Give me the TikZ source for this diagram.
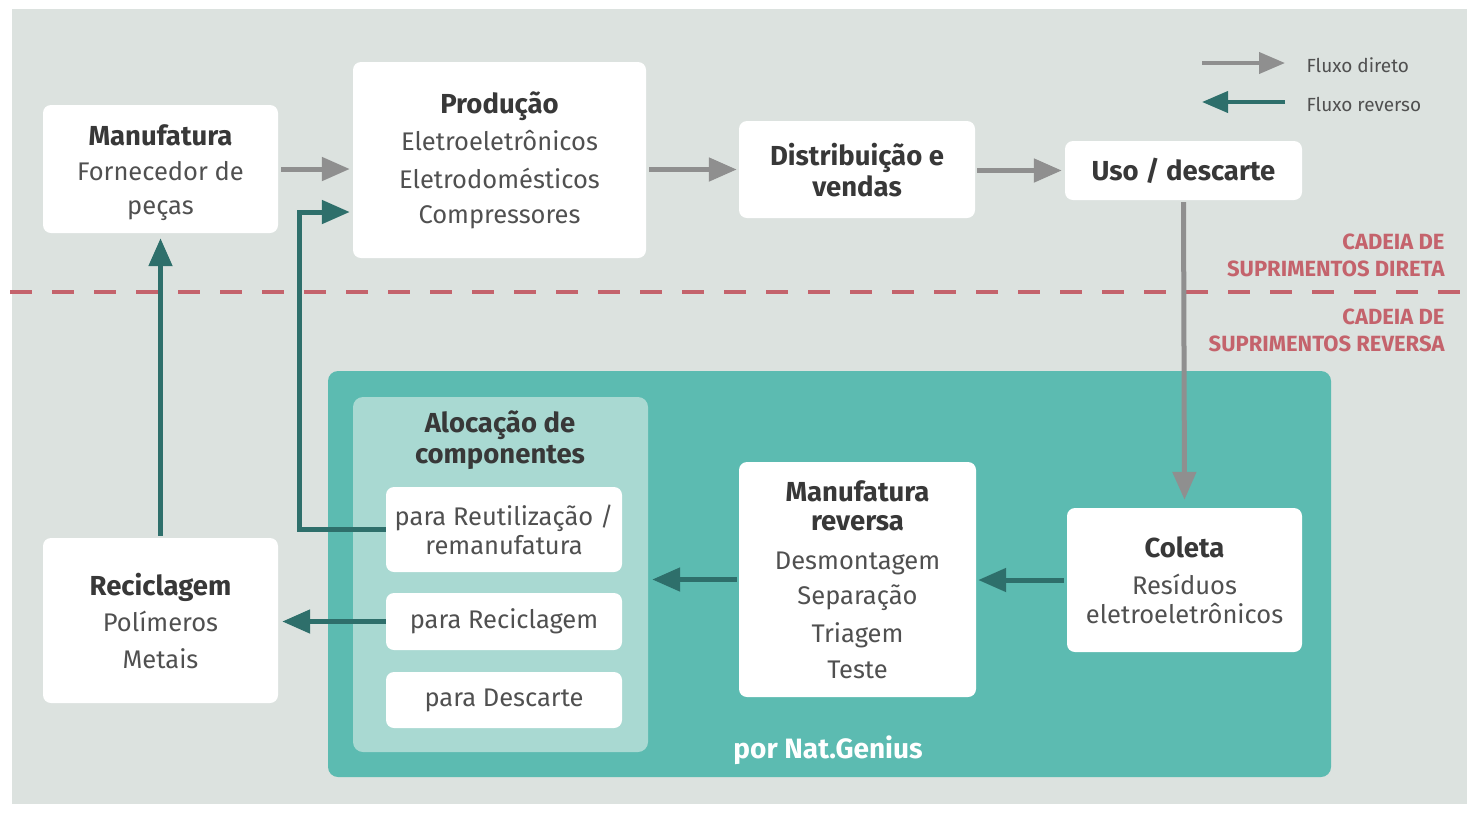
\documentclass[tikz,border=0pt]{standalone}
\usepackage{fontspec}
\setmainfont{Fira Sans}
\usetikzlibrary{arrows.meta}
\definecolor{bgc}{HTML}{DCE2DF}
\definecolor{tealbox}{HTML}{5CBBB1}
\definecolor{ltealbox}{HTML}{A9D9D2}
\definecolor{revc}{HTML}{2E6F6B}
\definecolor{fwdc}{HTML}{8F8F8F}
\definecolor{txtc}{HTML}{505050}
\definecolor{ttlc}{HTML}{383838}
\definecolor{redc}{HTML}{C4636C}
\tikzset{
  box/.style={fill=white, rounded corners=8pt, align=center, inner sep=0pt,
    text=txtc, font=\fontsize{25.5}{36}\selectfont},
  fwd/.style={draw=fwdc, line width=5pt, -{Triangle[length=28pt,width=23pt]}},
  rev/.style={draw=revc, line width=5pt, -{Triangle[length=28pt,width=23pt]}},
  sep/.style={draw=redc, line width=4.5pt, dash pattern=on 22pt off 20pt},
  chain/.style={text=redc, font=\bfseries\fontsize{22}{27}\selectfont, align=right, anchor=east},
  legend/.style={text=txtc, font=\fontsize{19}{22}\selectfont, anchor=west},
}
\newcommand{\ttl}[1]{{\bfseries\color{ttlc}\fontsize{27.5}{36}\selectfont#1}}
\begin{document}
\begin{tikzpicture}[x=1pt,y=-1pt]
\useasboundingbox (0,0) rectangle (1469,812);
\fill[white] (0,0) rectangle (1469,812);
\fill[bgc] (12,9) rectangle (1467,804);
% separator
\coordinate (sepL) at (10,292);
\coordinate (sepR) at (1467,292);
\draw[sep] (sepL) -- (sepR);
\node[chain] (cd) at (1448,255) {CADEIA DE\\SUPRIMENTOS DIRETA};
\node[chain] (cr) at (1448,330) {CADEIA DE\\SUPRIMENTOS REVERSA};
% legend
\coordinate (l1a) at (1202,63); \coordinate (l1b) at (1285,63);
\coordinate (l2a) at (1285,102); \coordinate (l2b) at (1202,102);
\draw[fwd, line width=4pt, -{Triangle[length=26pt,width=21pt]}] (l1a) -- (l1b);
\draw[rev, line width=4pt, -{Triangle[length=26pt,width=21pt]}] (l2a) -- (l2b);
\node[legend] (lt1) at (1303,65) {Fluxo direto};
\node[legend] (lt2) at (1303,104) {Fluxo reverso};
% containers
\node[fill=tealbox, rounded corners=10pt, minimum width=1003pt, minimum height=406pt, inner sep=0pt] (np) at (829.5,574) {};
\node[fill=ltealbox, rounded corners=10pt, minimum width=295pt, minimum height=355pt, inner sep=0pt] (aloc) at (500.5,574.5) {};
\node[text=ttlc, font=\bfseries\fontsize{27.5}{31}\selectfont, align=center] (aloct) at (500,440) {Alocação de\\componentes};
\node[text=white, font=\bfseries\fontsize{28}{30}\selectfont] (ng) at (828,750) {por Nat.Genius};
% boxes
\node[box, minimum width=235pt, minimum height=128pt] (manuf) at (160.5,169) {\rule{0pt}{28pt}\ttl{Manufatura}\\[-1pt]Fornecedor de\\[-2pt]peças};
\node[box, minimum width=293pt, minimum height=196pt] (prod) at (499.5,160) {\ttl{Produção}\\[1pt]Eletroeletrônicos\\[2pt]Eletrodomésticos\\[-1pt]Compressores};
\node[box, minimum width=236pt, minimum height=97pt] (dist) at (857,169.5) {\rule{0pt}{24pt}\ttl{Distribuição e}\\[-5pt]\ttl{vendas}};
\node[box, minimum width=237pt, minimum height=59pt] (uso) at (1183.5,170.5) {\ttl{Uso / descarte}};
\node[box, minimum width=235pt, minimum height=144pt] (coleta) at (1184.5,580) {\ttl{Coleta}\\[1pt]Resíduos\\[-7pt]eletroeletrônicos};
\node[box, minimum width=237pt, minimum height=235pt] (mrev) at (857.5,579.5) {\ttl{Manufatura}\\[-7pt]\ttl{reversa}\\[3pt]Desmontagem\\[-1pt]Separação\\[2pt]Triagem\\Teste};
\node[box, minimum width=236pt, minimum height=85pt] (reuse) at (504,529.5) {para Reutilização /\\[-7pt]remanufatura};
\node[box, minimum width=236pt, minimum height=57pt] (prec) at (504,621.5) {para Reciclagem};
\node[box, minimum width=236pt, minimum height=56pt] (pdesc) at (504,700) {para Descarte};
\node[box, minimum width=235pt, minimum height=165pt] (recic) at (160.5,620.5) {\ttl{Reciclagem}\\Polímeros\\[1pt]Metais};
% forward flow
\draw[fwd] ([xshift=3pt]manuf.east) -- ([xshift=-3pt]prod.west |- manuf.east);
\draw[fwd] ([xshift=3pt]prod.east |- dist.west) -- ([xshift=-2pt]dist.west);
\draw[fwd] ([xshift=2pt]dist.east |- uso.west) -- ([xshift=-3pt]uso.west);
\draw[fwd] ([yshift=-2pt]uso.south) -- ([yshift=8pt]coleta.north);
% reverse flow
\draw[rev] ([xshift=-3pt]coleta.west) -- ([xshift=2pt]mrev.east |- coleta.west);
\draw[rev] ([xshift=-2pt]mrev.west) -- ([xshift=4pt]aloc.east |- mrev.west);
\draw[rev] (prec.west) -- ([xshift=4pt]recic.east |- prec.west);
\draw[rev] (reuse.west) -- ++(-86,0) |- ([xshift=-3pt,yshift=-52pt]prod.west);
\draw[rev] ([yshift=2pt]recic.north) -- ([yshift=-5pt]manuf.south);
\end{tikzpicture}
\end{document}
